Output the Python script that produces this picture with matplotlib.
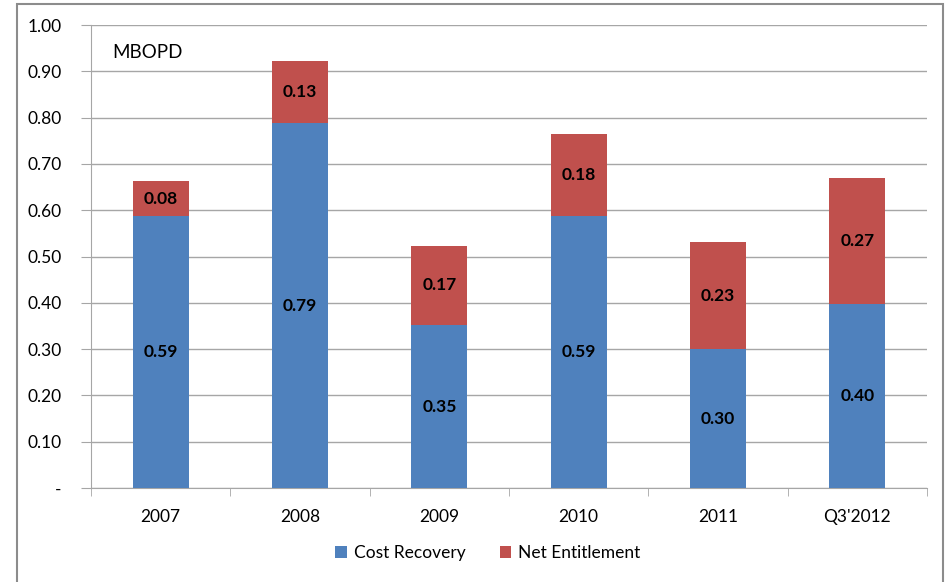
import numpy as np
import matplotlib
matplotlib.use("Agg")
import matplotlib.pyplot as plt
from matplotlib.patches import Rectangle
from matplotlib.ticker import FixedLocator

# ── Daten ─────────────────────────────────────────────────────────────────────
years = ["2007", "2008", "2009", "2010", "2011", "Q3'2012"]
cost_recovery = [0.587, 0.788, 0.352, 0.587, 0.300, 0.397]
net_entitlement = [0.076, 0.134, 0.171, 0.177, 0.231, 0.272]

BLUE = "#4F81BD"
RED = "#C0504D"
GRID = "#A6A6A6"
FS = 12.5

plt.rcParams["font.family"] = ["Lato", "DejaVu Sans"]

W, H = 950, 582
fig = plt.figure(figsize=(W / 100, H / 100), dpi=100)
ax = fig.add_axes([91 / W, 1 - 488 / H, (927 - 91) / W, (488 - 25) / H])

# äußerer Rahmen
fig.patches.append(Rectangle((17 / W, -0.1), (943 - 17) / W, 1.1 - 4 / H,
                             transform=fig.transFigure, fill=False,
                             edgecolor="#8C8C8C", lw=1.5))

x = np.arange(len(years))
ax.bar(x, cost_recovery, width=0.4, color=BLUE, label="Cost Recovery", zorder=3)
ax.bar(x, net_entitlement, width=0.4, bottom=cost_recovery, color=RED,
       label="Net Entitlement", zorder=3)

for i in range(len(years)):
    c, n = cost_recovery[i], net_entitlement[i]
    ax.text(x[i], c / 2, f"{c:.2f}", ha="center", va="center",
            fontsize=FS, fontweight="bold", zorder=4)
    ax.text(x[i], c + n / 2, f"{n:.2f}", ha="center", va="center",
            fontsize=FS, fontweight="bold", zorder=4)

ax.set_xlim(-0.5, len(years) - 0.5)
ax.set_ylim(0, 1.0)
yt = np.round(np.arange(0, 1.01, 0.1), 2)
ax.set_yticks(yt)
ax.set_yticklabels(["-"] + [f"{v:.2f}" for v in yt[1:]])
ax.yaxis.grid(True, color=GRID, lw=1, zorder=0)
ax.set_axisbelow(True)

ax.set_xticks(x)
ax.set_xticklabels(years)
ax.xaxis.set_minor_locator(FixedLocator(np.arange(-0.5, len(years), 1.0)))
ax.tick_params(axis="x", which="major", length=0, pad=15, labelsize=FS)
ax.tick_params(axis="x", which="minor", length=6, color=GRID, direction="out")
ax.tick_params(axis="y", length=7, color=GRID, pad=14, labelsize=FS)

for s in ["top", "right"]:
    ax.spines[s].set_visible(False)
for s in ["left", "bottom"]:
    ax.spines[s].set_color(GRID)

ax.text(0.025, 0.940, "MBOPD", transform=ax.transAxes, fontsize=13.5,
        ha="left", va="center")

fig.legend(loc="center", bbox_to_anchor=(488 / W, 1 - 553 / H), ncol=2,
           frameon=False, fontsize=FS, handlelength=0.65, handleheight=0.65,
           columnspacing=2.0, handletextpad=0.4)

fig.savefig("out.png", dpi=100)
plt.close(fig)
